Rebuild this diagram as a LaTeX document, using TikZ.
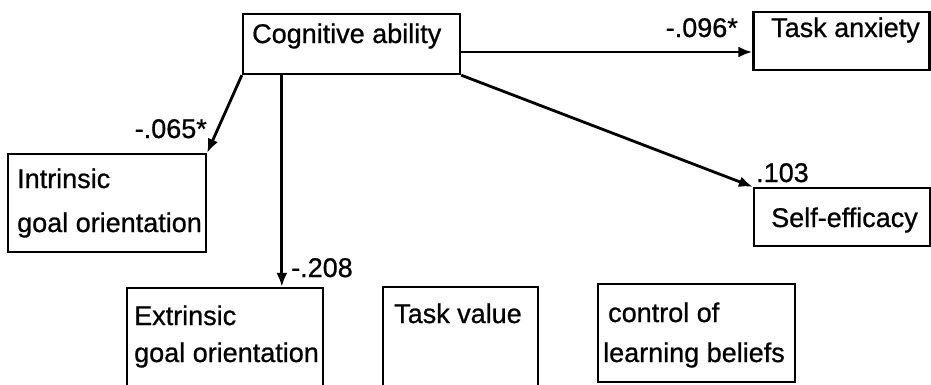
\documentclass[tikz,border=0pt]{standalone}
\usepackage{fontspec}
\setmainfont{Liberation Sans}
\newfontfamily\scanfont[FakeBold=0.8]{Liberation Sans}
\usetikzlibrary{arrows.meta,calc}
\begin{document}
\begin{tikzpicture}[x=1pt,y=-1pt,
  box/.style={draw=black,line width=2.3pt,rectangle,inner sep=0pt},
  txt/.style={inner sep=0pt,anchor=base west,font=\scanfont\fontsize{27}{32}\selectfont},
  lbl/.style={inner sep=0pt,font=\scanfont\fontsize{27}{32}\selectfont},
  arr/.style={line width=2.8pt,-{Latex[length=14pt,width=11pt]}}]
\useasboundingbox (0,0) rectangle (931,384);
\clip (0,0) rectangle (931,384);
% boxes
\node[box,minimum width=217pt,minimum height=60pt] (cog) at (351.5,44) {};
\node[box,minimum width=198pt,minimum height=98pt] (intr) at (107,203) {};
\node[box,minimum width=196pt,minimum height=104pt] (extr) at (225,340) {};
\node[box,minimum width=155pt,minimum height=105pt] (tval) at (460.5,339.5) {};
\node[box,minimum width=197pt,minimum height=98pt] (ctrl) at (696.5,333) {};
\node[box,minimum width=176pt,minimum height=58pt] (tanx) at (841.5,41) {};
\node[box,minimum width=176pt,minimum height=58pt] (self) at (842,217) {};
% texts
\node[txt] (tcog) at (252,43) {Cognitive ability};
\node[txt] (tint1) at (17,188) {Intrinsic};
\node[txt] (tint2) at (17,232) {goal orientation};
\node[txt] (text1) at (134,325) {Extrinsic};
\node[txt] (text2) at (134,362) {goal orientation};
\node[txt] (ttv) at (394,323) {Task value};
\node[txt] (tct1) at (608,322) {control of};
\node[txt] (tct2) at (603,362) {learning beliefs};
\node[txt] (tta) at (771,37) {Task anxiety};
\node[txt] (tse) at (771,227) {Self-efficacy};
% connectors
\draw[arr] ([yshift=-8pt]cog.east) -- ([yshift=-11pt]tanx.west);
\draw[arr] (cog.south east) -- (self.north west);
\draw[arr] (cog.south west) -- (intr.north east);
\draw[arr] ([xshift=40pt]cog.south west) coordinate (c1) -- (c1 |- extr.north);
% coefficient labels
\node[lbl,anchor=base east] (l1) at (738,37) {-.096*};
\node[lbl,anchor=base west] (l2) at (756,182) {.103};
\node[lbl,anchor=base east] (l3) at (207,138) {-.065*};
\node[lbl,anchor=base west] (l4) at (291,277) {-.208};
\end{tikzpicture}
\end{document}
